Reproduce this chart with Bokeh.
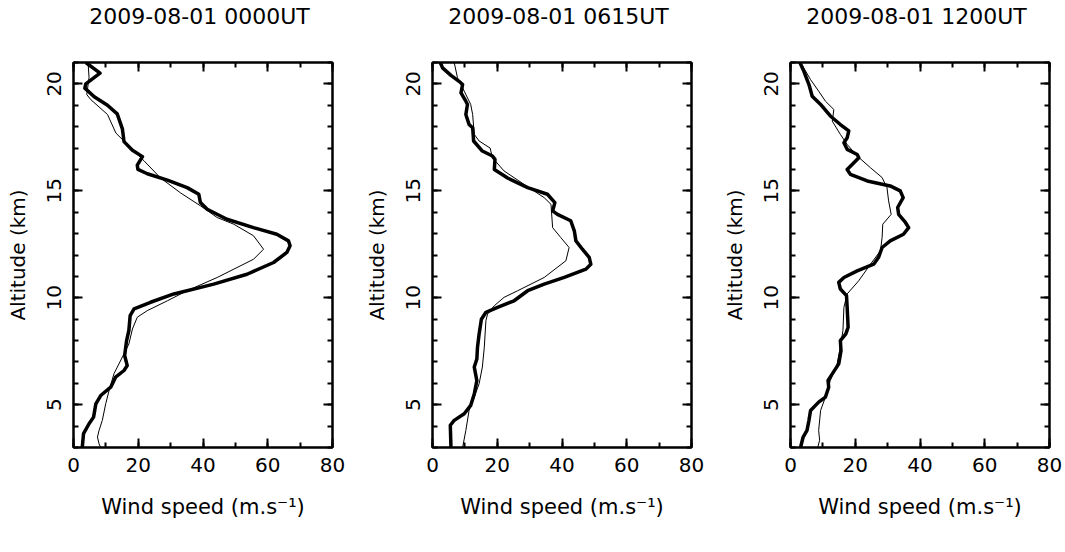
from bokeh.plotting import figure
from bokeh.layouts import row
from bokeh.models import LinearAxis, SingleIntervalTicker, Range1d
from bokeh.embed import file_html
from bokeh.resources import INLINE

titles = ["2009-08-01  0000UT", "2009-08-01  0615UT", "2009-08-01  1200UT"]
x_label = "Wind speed (m.s\u207b\u00b9)"
y_label = "Altitude (km)"

# Panel 1 (0000UT)
p1_thick_speed = [3.8, 8.2, 3.8, 3.5, 6.4, 10.5, 13.5, 15.1, 15.6, 18.2, 21.3, 19.7, 19.9, 22.8, 29.0, 35.1,
                  38.7, 39.2, 41.3, 47.4, 55.6, 62.8, 66.4, 66.9, 65.9, 61.8, 53.6, 43.3, 31.0, 23.8, 18.7,
                  17.5, 17.1, 16.4, 15.8, 16.6, 15.6, 13.0, 11.5, 8.4, 6.9, 6.2, 4.8, 3.1, 2.7]
p1_thick_alt = [21.0, 20.5, 20.0, 19.8, 19.4, 19.0, 18.6, 17.9, 17.3, 16.9, 16.6, 16.2, 16.0, 15.8, 15.5, 15.15,
                14.84, 14.45, 14.14, 13.67, 13.28, 12.97, 12.66, 12.43, 12.12, 11.65, 11.1, 10.64, 10.18, 9.79, 9.48,
                9.17, 8.47, 8.0, 7.3, 6.83, 6.6, 6.29, 5.82, 5.43, 5.04, 4.42, 4.11, 3.65, 3.0]
p1_thin_speed = [4.5, 4.8, 4.1, 5.3, 10.5, 13.1, 15.1, 16.6, 18.7, 21.8, 26.9, 33.1, 39.2, 44.4, 49.5, 55.6,
                 58.7, 55.6, 44.4, 35.1, 29.0, 22.8, 19.7, 18.2, 17.1, 15.6, 12.5, 11.0, 9.96, 8.9, 7.9, 7.4, 7.9, 8.4]
p1_thin_alt = [21.0, 20.3, 19.5, 19.27, 18.57, 17.7, 17.4, 17.17, 16.86, 16.4, 15.6, 14.9, 14.3, 13.75, 13.44, 12.9,
               12.27, 11.8, 10.95, 10.33, 9.86, 9.4, 9.09, 8.54, 7.84, 7.38, 6.45, 5.67, 5.05, 4.27, 3.8, 3.49, 3.17, 3.0]

# Panel 2 (0615UT)
p2_thick_speed = [2.4, 3.1, 5.7, 8.2, 9.3, 8.8, 10.3, 10.8, 10.3, 11.3, 12.4, 12.7, 15.4, 18.5, 19.3, 19.1, 23.2,
                  29.4, 35.5, 37.8, 37.1, 38.6, 42.7, 43.8, 44.3, 46.3, 48.4, 48.9, 47.4, 40.7, 34.5, 29.4, 25.2,
                  20.1, 16.5, 15.1, 14.4, 13.9, 13.7, 12.9, 13.7, 12.9, 11.8, 9.8, 6.7, 5.5, 5.7]
p2_thick_alt = [21.0, 20.75, 20.4, 20.12, 19.97, 19.58, 19.19, 19.04, 18.57, 18.1, 17.95, 17.33, 16.86, 16.63, 16.47,
                16.0, 15.6, 15.15, 14.84, 14.45, 14.06, 13.9, 13.6, 13.13, 12.66, 12.27, 11.89, 11.57, 11.34, 10.95,
                10.64, 10.33, 9.86, 9.55, 9.32, 9.0, 8.31, 7.69, 7.14, 6.76, 6.13, 5.5, 4.97, 4.58, 4.27, 4.04, 3.0]
p2_thin_speed = [6.7, 7.7, 9.8, 11.8, 12.4, 12.9, 14.4, 17.8, 18.5, 22.1, 28.3, 34.5, 36.6, 37.1, 39.6, 42.2, 41.2,
                 34.5, 26.3, 22.1, 19.1, 17.0, 16.5, 16.0, 15.4, 14.4, 12.9, 11.3, 10.3, 9.3]
p2_thin_alt = [21.0, 20.3, 19.66, 19.04, 18.57, 17.64, 17.33, 17.0, 16.55, 15.93, 15.3, 14.68, 14.37, 13.28, 12.82,
               12.35, 11.73, 10.95, 10.33, 10.02, 9.63, 9.24, 8.93, 7.69, 6.76, 5.98, 5.36, 4.73, 3.8, 3.0]

# Panel 3 (1200UT)
p3_thick_speed = [2.9, 4.1, 5.7, 6.7, 9.3, 12.3, 15.4, 18.0, 17.5, 16.5, 17.5, 20.6, 21.1, 19.5, 17.5, 18.5, 23.7,
                  30.8, 33.9, 34.8, 33.1, 33.4, 35.5, 36.5, 34.9, 30.8, 28.3, 27.2, 25.7, 20.6, 16.5, 14.9, 15.4,
                  17.3, 17.5, 17.8, 17.1, 15.4, 15.6, 14.9, 12.9, 11.6, 11.8, 10.8, 8.7, 6.2, 5.7, 5.1, 3.9, 3.1]
p3_thick_alt = [21.0, 20.6, 19.97, 19.42, 19.04, 18.5, 18.1, 17.8, 17.48, 17.25, 16.94, 16.7, 16.55, 16.3, 16.0,
                15.77, 15.46, 15.23, 15.0, 14.68, 14.22, 13.9, 13.52, 13.28, 12.97, 12.66, 12.35, 11.89, 11.57,
                11.26, 10.95, 10.72, 10.41, 10.1, 9.55, 8.62, 8.31, 8.0, 7.53, 6.91, 6.44, 6.13, 5.82, 5.36, 5.12,
                4.73, 4.27, 3.8, 3.49, 3.0]
p3_thin_speed = [3.1, 6.2, 8.7, 10.8, 13.4, 12.9, 15.4, 17.5, 20.6, 24.7, 28.3, 29.8, 30.3, 31.1, 28.5, 28.3, 27.8,
                 24.7, 21.1, 17.5, 16.5, 16.2, 15.4, 14.4, 12.3, 10.8, 9.3, 8.7, 9.0, 8.4]
p3_thin_alt = [21.0, 20.2, 19.66, 19.19, 18.8, 18.26, 17.64, 17.17, 16.63, 16.08, 15.62, 15.15, 14.53, 13.9, 13.44,
               12.82, 12.2, 11.57, 10.8, 10.18, 9.55, 8.47, 7.69, 6.91, 6.13, 5.36, 4.73, 3.8, 3.34, 3.0]

FONT = "DejaVu Sans"


def style_axis(ax, show_labels):
    ax.axis_line_color = "black"
    ax.axis_line_width = 2
    ax.major_tick_line_color = "black"
    ax.major_tick_line_width = 2
    ax.minor_tick_line_color = "black"
    ax.minor_tick_line_width = 2
    ax.major_tick_out = 0
    ax.minor_tick_out = 0
    ax.major_tick_in = 9
    ax.minor_tick_in = 5
    ax.axis_label_text_font = FONT
    ax.axis_label_text_font_style = "normal"
    ax.axis_label_text_color = "black"
    if show_labels:
        ax.major_label_text_font = FONT
        ax.major_label_text_font_size = "20px"
        ax.major_label_text_color = "black"
        ax.major_label_standoff = 10
        ax.axis_label_text_font_size = "20px"
        ax.axis_label_standoff = 17
    else:
        ax.major_label_text_color = None
        ax.major_label_text_font_size = "1px"
        ax.major_label_standoff = 0
        ax.axis_label_standoff = 0


def make_panel(title, tv, ta, nv, na, border_right):
    p = figure(frame_width=259, frame_height=385,
               x_range=Range1d(0, 80), y_range=Range1d(3, 21),
               output_backend="svg", toolbar_location=None,
               x_axis_type=None, y_axis_type=None,
               min_border_left=73, min_border_right=border_right,
               min_border_top=62, min_border_bottom=100)

    xb = LinearAxis(ticker=SingleIntervalTicker(interval=20, num_minor_ticks=2), axis_label=x_label)
    style_axis(xb, True)
    xb.axis_label_text_font_size = "21px"
    xb.axis_label_standoff = 20
    p.add_layout(xb, "below")

    # top axis: ticks only, panel title as its label
    xt = LinearAxis(ticker=SingleIntervalTicker(interval=20, num_minor_ticks=2), axis_label=title)
    style_axis(xt, False)
    xt.axis_label_text_font_size = "22px"
    xt.axis_label_standoff = 34
    p.add_layout(xt, "above")

    yl = LinearAxis(ticker=SingleIntervalTicker(interval=5, num_minor_ticks=5), axis_label=y_label)
    style_axis(yl, True)
    yl.major_label_orientation = "vertical"
    yl.major_label_standoff = 12
    yl.axis_label_standoff = 15
    p.add_layout(yl, "left")
    yr = LinearAxis(ticker=SingleIntervalTicker(interval=5, num_minor_ticks=5))
    style_axis(yr, False)
    p.add_layout(yr, "right")

    p.outline_line_color = "black"
    p.outline_line_width = 2
    p.background_fill_color = "white"
    p.border_fill_color = "white"

    p.line(nv, na, line_color="black", line_width=1)
    p.line(tv, ta, line_color="black", line_width=3.5, line_join="round")
    return p


p1 = make_panel(titles[0], p1_thick_speed, p1_thick_alt, p1_thin_speed, p1_thin_alt, 27)
p2 = make_panel(titles[1], p2_thick_speed, p2_thick_alt, p2_thin_speed, p2_thin_alt, 26)
p3 = make_panel(titles[2], p3_thick_speed, p3_thick_alt, p3_thin_speed, p3_thin_alt, 15)

layout = row(p1, p2, p3, spacing=0)
open("out.html", "w").write(file_html(layout, INLINE))
